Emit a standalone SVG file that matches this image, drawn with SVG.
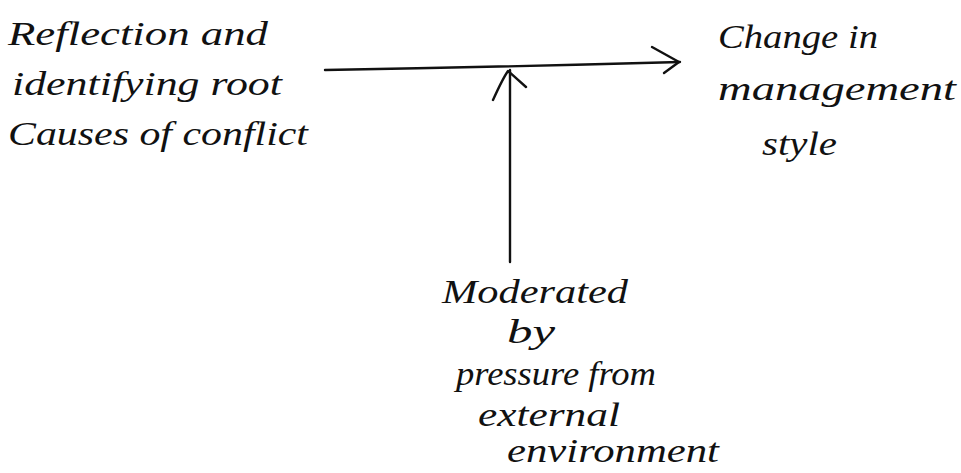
<svg xmlns="http://www.w3.org/2000/svg" width="961" height="473" viewBox="0 0 961 473">
  <style>
    .hand { font-family: "Liberation Serif", "DejaVu Serif", serif; font-style: italic; font-size: 34px; fill: #111; }
    .stroke { fill: none; stroke: #111; stroke-width: 2.4; stroke-linecap: round; stroke-linejoin: round; }
  </style>
  <rect width="961" height="473" fill="#fff"/>

  <g id="connectors">
    <!-- main causal arrow -->
    <path class="stroke" d="M325 70 Q500 67 680 62"/>
    <path class="stroke" d="M652 47 L679 62 L664 73"/>
    <!-- moderating arrow pointing up into the main arrow -->
    <path class="stroke" d="M510 262 L510 70"/>
    <path class="stroke" d="M493 100 Q503 78 508 71 Q518 80 526 87"/>
  </g>

  <g id="cause">
    <text class="hand" x="8" y="45" textLength="260" lengthAdjust="spacingAndGlyphs">Reflection and</text>
    <text class="hand" x="12" y="95" textLength="270" lengthAdjust="spacingAndGlyphs">identifying root</text>
    <text class="hand" x="8" y="145" textLength="300" lengthAdjust="spacingAndGlyphs">Causes of conflict</text>
  </g>

  <g id="effect">
    <text class="hand" x="718" y="48" textLength="160" lengthAdjust="spacingAndGlyphs">Change in</text>
    <text class="hand" x="718" y="100" textLength="238" lengthAdjust="spacingAndGlyphs">management</text>
    <text class="hand" x="762" y="155" textLength="75" lengthAdjust="spacingAndGlyphs">style</text>
  </g>

  <g id="moderator">
    <text class="hand" x="442" y="303" textLength="186" lengthAdjust="spacingAndGlyphs">Moderated</text>
    <text class="hand" x="507" y="343" textLength="48" lengthAdjust="spacingAndGlyphs">by</text>
    <text class="hand" x="456" y="385" textLength="200" lengthAdjust="spacingAndGlyphs">pressure from</text>
    <text class="hand" x="478" y="426" textLength="142" lengthAdjust="spacingAndGlyphs">external</text>
    <text class="hand" x="507" y="462" textLength="212" lengthAdjust="spacingAndGlyphs">environment</text>
  </g>
</svg>
